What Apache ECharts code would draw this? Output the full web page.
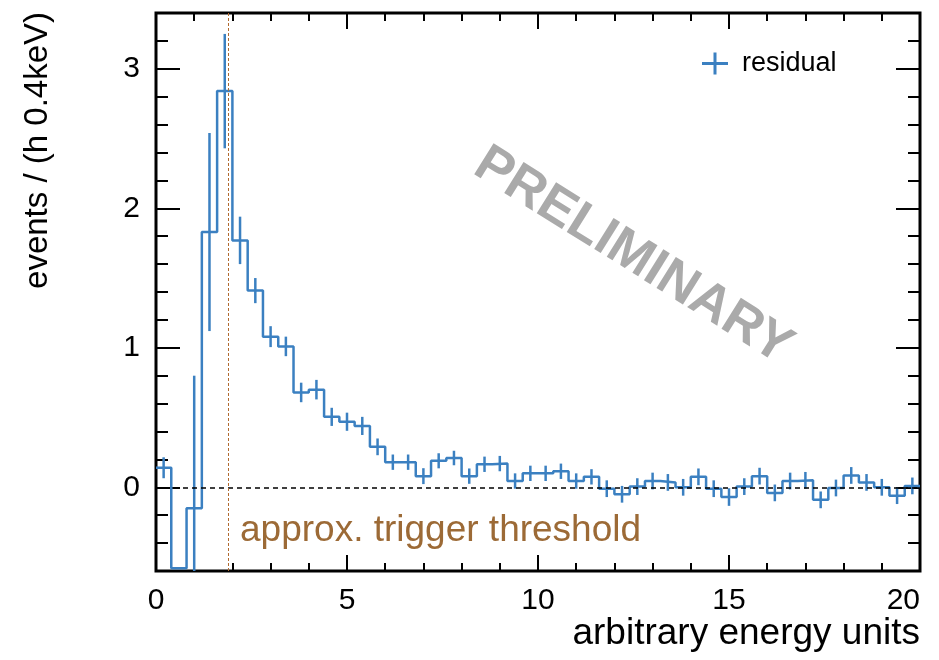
<!DOCTYPE html>
<html><head><meta charset="utf-8">
<script src="https://cdn.jsdelivr.net/npm/echarts@6/dist/echarts.min.js"></script>
<style>html,body{margin:0;padding:0;background:#fff}#c{width:939px;height:660px}</style>
</head><body><div id="c"></div>
<script>
// Histogram bin lower edges (0.4 wide bins) and the last upper edge
const binLowEdges = [0,0.4,0.8,1.2,1.6,2.0,2.4,2.8,3.2,3.6,4.0,4.4,4.8,5.2,5.6,6.0,6.4,6.8,7.2,7.6,
  8.0,8.4,8.8,9.2,9.6,10.0,10.4,10.8,11.2,11.6,12.0,12.4,12.8,13.2,13.6,14.0,14.4,14.8,15.2,15.6,
  16.0,16.4,16.8,17.2,17.6,18.0,18.4,18.8,19.2,19.6];
const binUpperEdge = 20;
// Residual per bin (events / 0.4 keV)
const residual = [0.14,-0.58,-0.15,1.83,2.84,1.77,1.41,1.08,1.01,0.68,
  0.70,0.505,0.47,0.44,0.29,0.18,0.18,0.08,0.19,0.21,
  0.08,0.165,0.17,0.045,0.10,0.10,0.115,0.045,0.075,-0.01,
  -0.05,0.005,0.045,0.035,0.0,0.075,-0.01,-0.07,0.005,0.08,
  -0.04,0.045,0.05,-0.09,-0.005,0.085,0.035,0.0,-0.06,0.01];
// Error bar half-lengths (null = not visible)
const residualErr = [0.075,null,0.95,0.71,0.41,0.17,0.09,0.075,0.07,0.07,
  0.07,0.065,0.065,0.065,0.06,0.055,0.055,0.057,0.054,0.052,
  0.055,0.055,0.055,0.055,0.055,0.055,0.055,0.055,0.055,0.06,
  0.06,0.06,0.06,0.06,0.06,0.06,0.06,0.063,0.06,0.06,
  0.06,0.06,0.06,0.06,0.06,0.06,0.06,0.06,0.06,0.06];
const xTickLabels = [0,5,10,15,20];
const yTickLabels = [0,1,2,3];
const thresholdX = 1.88;

const BLUE = '#3b80c1';
const FONT = "'Liberation Sans', Arial, Helvetica, sans-serif";

const stepData = binLowEdges.map((e,i)=>[e, residual[i]]);
stepData.push([binUpperEdge, residual[residual.length-1]]);
const errData = [];
binLowEdges.forEach((e,i)=>{
  if (residualErr[i] == null) return;
  const hiEdge = i+1 < binLowEdges.length ? binLowEdges[i+1] : binUpperEdge;
  const c = (e + hiEdge)/2;
  errData.push([c, residual[i]-residualErr[i], residual[i]+residualErr[i]]);
});

const tickStyle = {color:'#000', width:2};
function xAx(pos, interval, len, labels){
  return {type:'value', min:0, max:20, interval:interval, position:pos,
    axisLine:{show:false, onZero:false}, splitLine:{show:false},
    axisTick:{show:true, inside:true, length:len, lineStyle:tickStyle},
    axisLabel:{show:labels, fontSize:30, color:'#000', fontFamily:FONT, margin:15, alignMaxLabel:'right',
      formatter:v=> xTickLabels.indexOf(v)>=0 ? String(v) : ''}};
}
function yAxMinor(pos){
  return {type:'value', min:-0.6, max:3.4, interval:0.2, position:pos,
    axisLine:{show:false, onZero:false}, splitLine:{show:false},
    axisTick:{show:true, inside:true, length:12, lineStyle:tickStyle},
    axisLabel:{show:false}};
}
function yAxMajor(pos, labels){
  return {type:'value', min:-0.6, max:3.4, position:pos,
    axisLine:{show:false, onZero:false}, splitLine:{show:false},
    axisTick:{show:true, inside:true, length:24, lineStyle:tickStyle, customValues:yTickLabels},
    axisLabel:{show:labels, fontSize:30, color:'#000', fontFamily:FONT, margin:16, customValues:yTickLabels}};
}

const chart = echarts.init(document.getElementById('c'), null, {renderer:'canvas'});
chart.setOption({
  animation:false,
  backgroundColor:'#fff',
  grid:{left:156, right:19, top:13, bottom:89, show:true, borderColor:'#000', borderWidth:3, backgroundColor:'transparent'},
  xAxis:[xAx('bottom',1,8,false), xAx('bottom',5,16,true), xAx('top',1,8,false), xAx('top',5,16,false)],
  yAxis:[yAxMinor('left'), yAxMajor('left',true), yAxMinor('right'), yAxMajor('right',false)],
  legend:{show:true, left:702, top:50, padding:0, itemWidth:26, itemHeight:22,
    data:[{name:'residual', icon:'path://M0,9.5H26V12.5H0Z M11.5,0H14.5V22H11.5Z', itemStyle:{color:BLUE}}],
    textStyle:{fontSize:27, color:'#000', fontFamily:FONT, padding:[0,0,0,9]}},
  series:[
    {name:'residual', type:'custom', xAxisIndex:0, yAxisIndex:0, clip:true,
      itemStyle:{color:BLUE}, encode:{x:0, y:[1,2]}, data:errData,
      renderItem:function(params, api){
        const x = api.value(0), lo = api.value(1), hi = api.value(2);
        const p1 = api.coord([x, hi]), p2 = api.coord([x, lo]);
        const cs = params.coordSys;
        const top = Math.max(p1[1], cs.y), bot = Math.min(p2[1], cs.y+cs.height);
        if (bot <= top) return null;
        return {type:'line', shape:{x1:p1[0], y1:top, x2:p1[0], y2:bot}, style:{stroke:BLUE, lineWidth:2.5}};
      }},
    {name:'residual', type:'line', xAxisIndex:0, yAxisIndex:0, step:'end', clip:true,
      symbol:'none', data:stepData, itemStyle:{color:BLUE}, lineStyle:{color:BLUE, width:2.5},
      markLine:{silent:true, symbol:'none', label:{show:false}, animation:false,
        data:[
          {yAxis:0, lineStyle:{color:'#000', width:1.5, type:[5,4]}},
          {xAxis:thresholdX, lineStyle:{color:'#b06a30', width:1, type:[3,2]}}
        ]}}
  ],
  graphic:[
    {type:'text', x:38, y:12, rotation:Math.PI/2,
      style:{text:'events / (h 0.4keV)', font:'33px '+FONT, fill:'#000', align:'right', verticalAlign:'middle'}},
    {type:'text', x:920, y:634,
      style:{text:'arbitrary energy units', font:'37px '+FONT, fill:'#000', align:'right', verticalAlign:'middle'}},
    {type:'text', x:240, y:531,
      style:{text:'approx. trigger threshold', font:'37px '+FONT, fill:'#9c6a36', align:'left', verticalAlign:'middle'}},
    {type:'text', x:633, y:256, rotation:-32*Math.PI/180,
      style:{text:'PRELIMINARY', font:'bold 53px '+FONT, fill:'#aaaaaa', align:'center', verticalAlign:'middle'}}
  ]
});
</script>
</body></html>
